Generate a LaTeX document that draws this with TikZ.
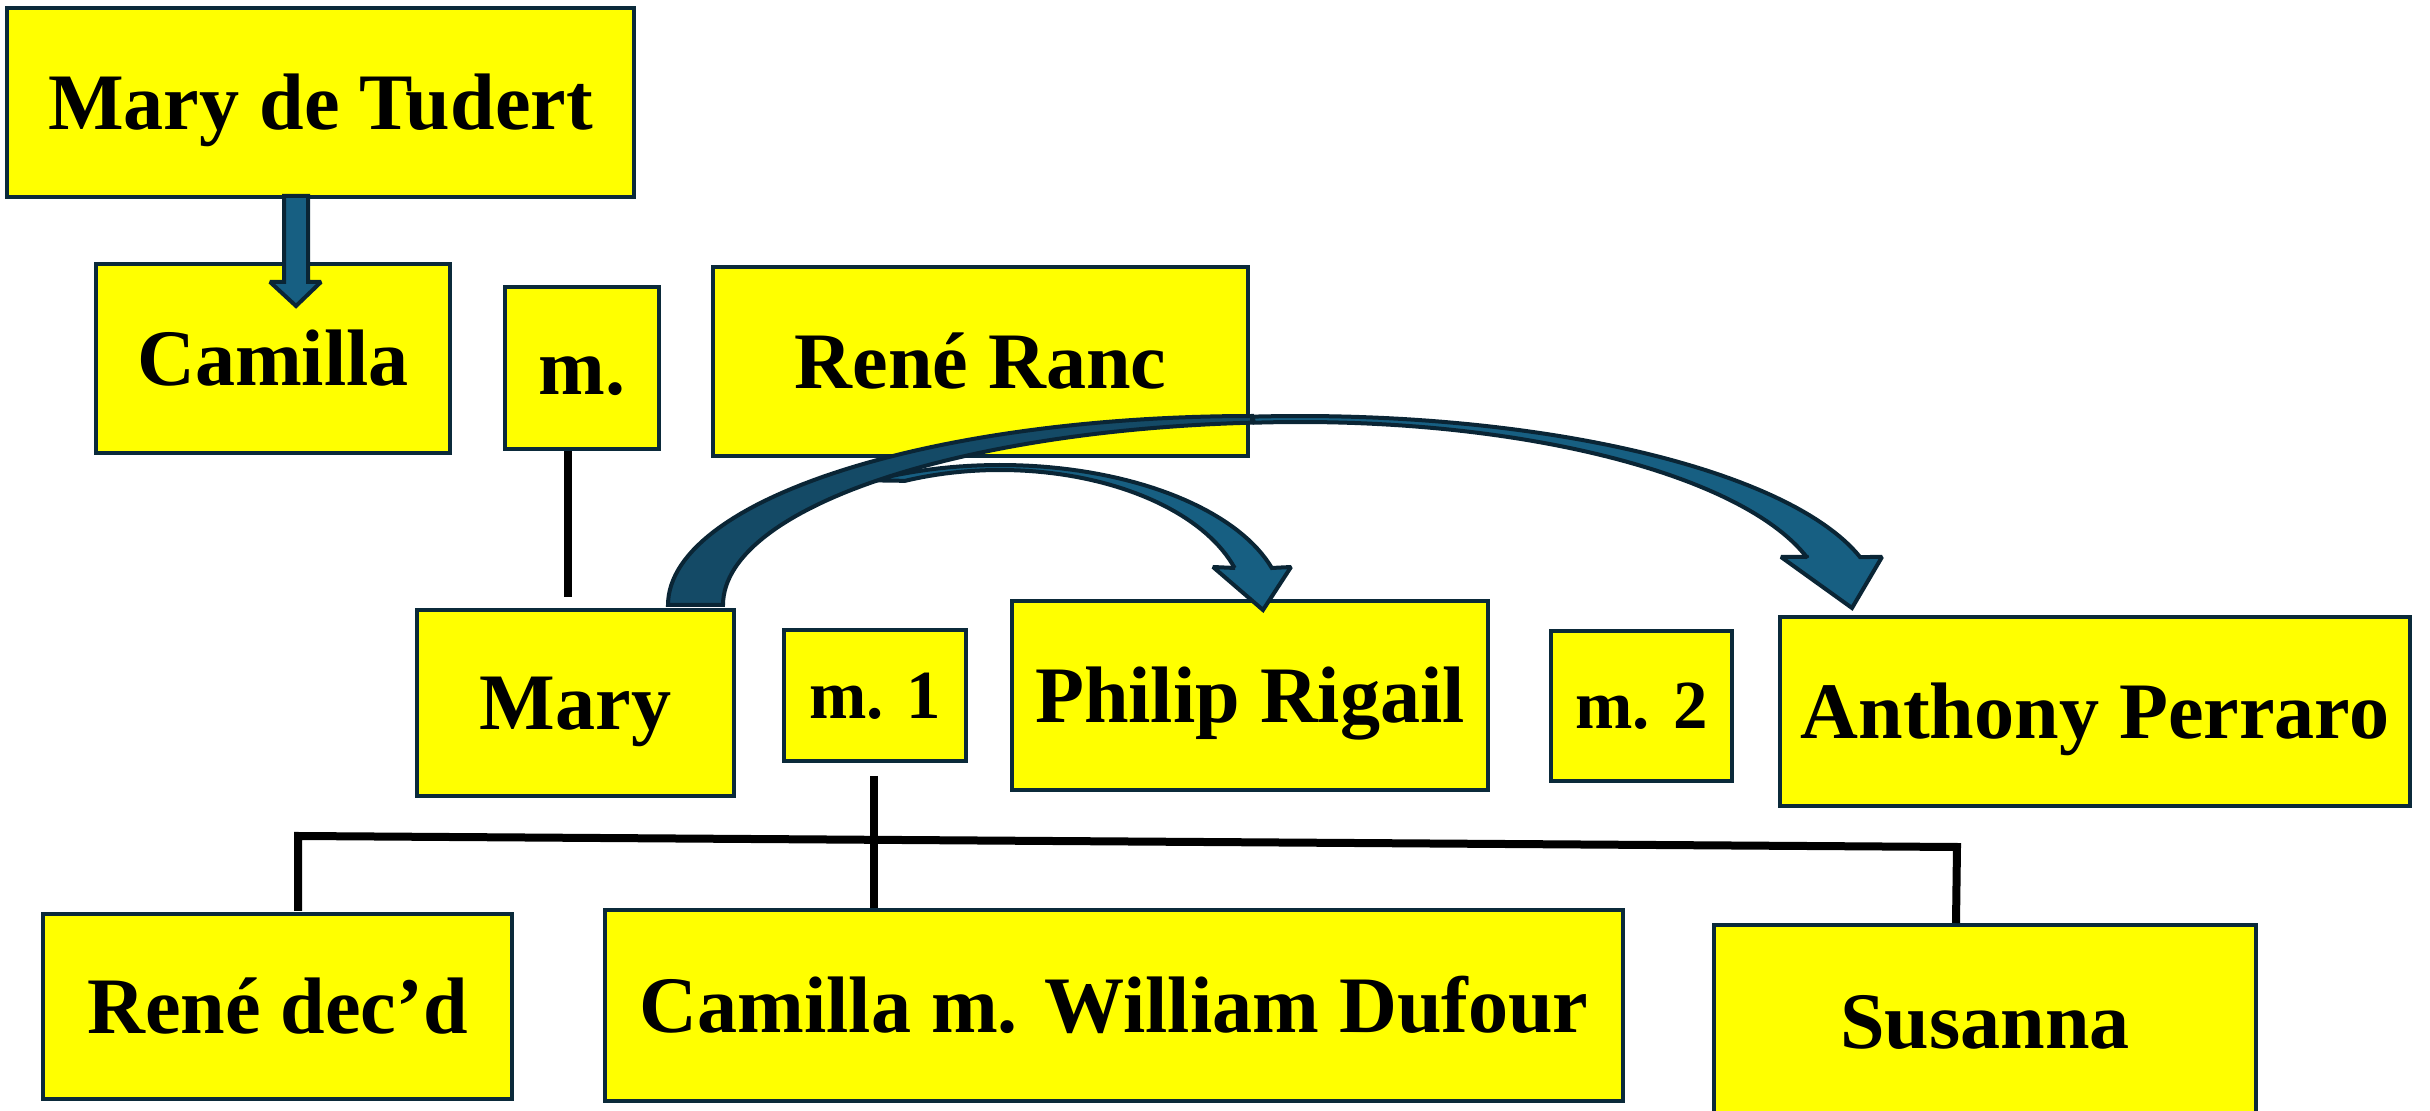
\documentclass[tikz,border=0pt]{standalone}
\usepackage{fontspec}
\setmainfont{Liberation Serif}
\definecolor{boxfill}{HTML}{FFFF00}
\definecolor{boxline}{HTML}{0B2A3A}
\definecolor{arrowlight}{HTML}{175F82}
\definecolor{arrowdark}{HTML}{144A66}
\definecolor{arrowline}{HTML}{0A2535}
\begin{document}
\begin{tikzpicture}[x=0.1mm,y=-0.1mm,
  famBox/.style={draw=boxline, fill=boxfill, line width=0.4mm, inner sep=0pt, outer sep=0pt,
    font=\fontsize{22.8pt}{26pt}\selectfont\bfseries, text height=15.1pt, text depth=0pt},
  smallText/.style={font=\fontsize{19.6pt}{23pt}\selectfont\bfseries, text height=13pt},
  link/.style={draw=black, line width=0.8mm},
  blockLight/.style={fill=arrowlight, draw=arrowline, line width=0.4mm, line join=miter, miter limit=2},
  blockDark/.style={fill=arrowdark, draw=arrowline, line width=0.4mm, line join=miter, miter limit=2}]
\useasboundingbox (0,0) rectangle (2430,1111);
\clip (0,0) rectangle (2430,1111);

% boxes (sizes in mm: 1 unit = 0.1 mm)
\node[famBox, minimum width=62.7mm, minimum height=18.9mm] (mdt) at (320.5,102.5) {Mary de Tudert};
\node[famBox, minimum width=35.4mm, minimum height=18.9mm] (cam) at (273,358.5) {Camilla};
\node[famBox, minimum width=15.4mm, minimum height=16.2mm] (mA) at (582,368) {m.};
\node[famBox, minimum width=53.5mm, minimum height=18.9mm] (rr) at (980.5,361.5) {René Ranc};
\node[famBox, minimum width=31.7mm, minimum height=18.6mm] (mary) at (575.5,703) {Mary};
\node[famBox, smallText, minimum width=18.2mm, minimum height=13.1mm] (m1) at (875,695.5) {m. 1};
\node[famBox, minimum width=47.6mm, minimum height=18.9mm] (pr) at (1250,695.5) {Philip Rigail};
\node[famBox, smallText, minimum width=18.1mm, minimum height=15.0mm] (m2) at (1641.5,706) {m. 2};
\node[famBox, minimum width=63.0mm, minimum height=18.9mm] (ap) at (2095,711.5) {Anthony Perraro};
\node[famBox, minimum width=46.9mm, minimum height=18.5mm] (rd) at (277.5,1007) {René dec’d};
\node[famBox, minimum width=101.8mm, minimum height=19.1mm] (cwd) at (1114,1005.5) {Camilla m. William Dufour};
\node[famBox, minimum width=54.2mm, minimum height=19.3mm] (sus) at (1985,1021.5) {Susanna};

% connector lines
\coordinate (mAdown) at (568,451);
\coordinate (maryup) at (568,597);
\coordinate (m1down) at (874,776);
\coordinate (cwdup) at (874,908);
\coordinate (rdup) at (298,911);
\coordinate (barL) at (298,836);
\coordinate (barR) at (1957,847);
\coordinate (susup) at (1956,923);
\draw[link] (mAdown) -- (maryup);
\draw[link] (m1down) -- (cwdup);
\draw[link] (rdup) -- (barL) -- (barR) -- (susup);

% straight block arrow Mary de Tudert -> Camilla
\draw[blockLight] (284,196) -- (308,196) -- (308,282) -- (321,282) -- (296,306) -- (270,282) -- (284,282) -- cycle;

% small curved arrow Mary -> Philip Rigail
\draw[blockLight] plot[domain=243.4:343.16, samples=50] ({1000+284*cos(\x)},{610+145*sin(\x)})
  -- (1291,567) -- (1263,610) -- (1213,567) -- (1235,568)
  -- plot[domain=342.54:247.3, samples=50] ({1000+246*cos(\x)},{610+140*sin(\x)})
  -- cycle;

% large curved arrow Mary -> Anthony Perraro: back part
\draw[blockDark] plot[domain=180:270, samples=60] ({1252+584*cos(\x)},{605+189*sin(\x)})
  -- plot[domain=265.24:180, samples=60] ({1300+577*cos(\x)},{605+183*sin(\x)})
  -- cycle;
% front part
\draw[blockLight] plot[domain=265.24:345.29, samples=60] ({1300+579*cos(\x)},{605+189*sin(\x)})
  -- (1882,557) -- (1852,608) -- (1781,557) -- (1807,557)
  -- plot[domain=345.1:265.0, samples=60] ({1300+525*cos(\x)},{605+183*sin(\x)})
  -- cycle;
\end{tikzpicture}
\end{document}
